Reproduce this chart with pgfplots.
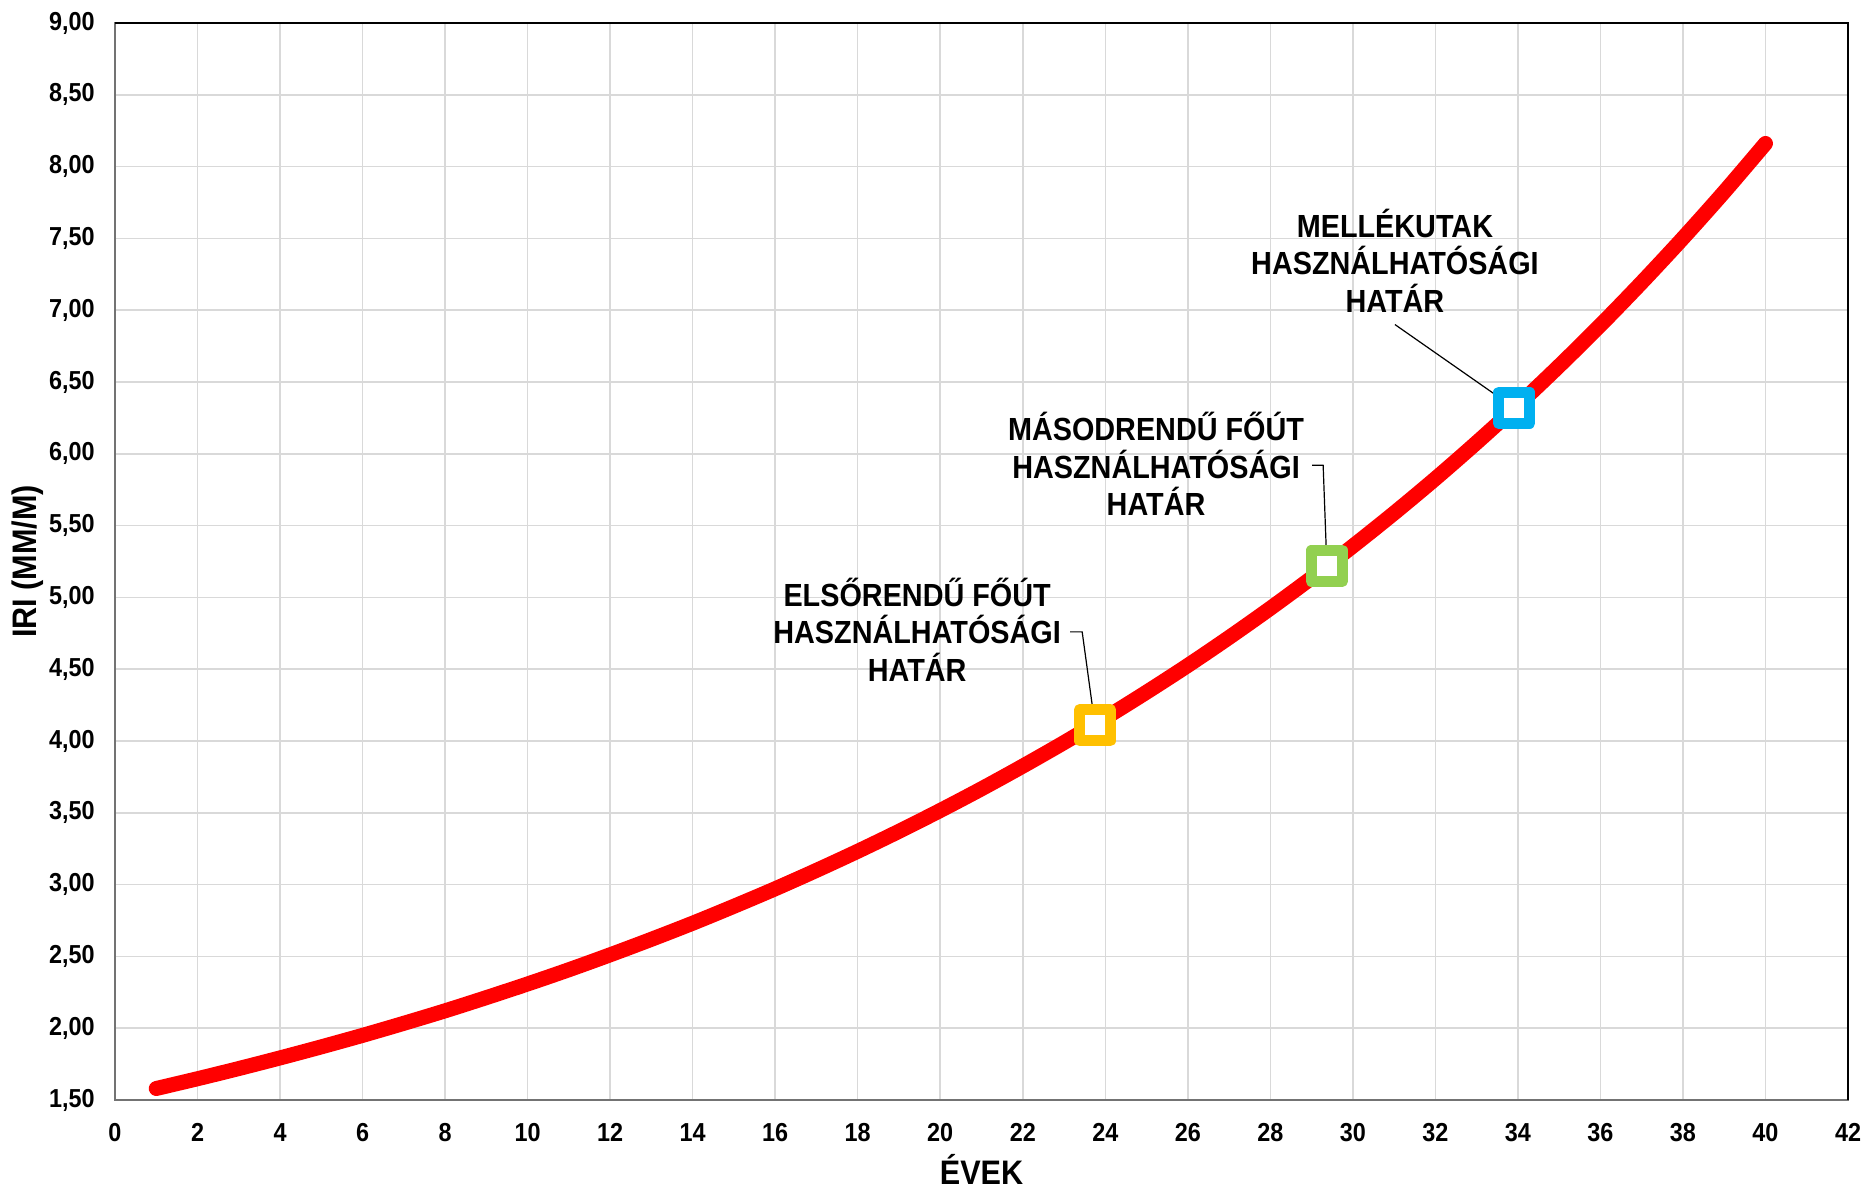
\documentclass[border=0pt]{standalone}
\usepackage{fontspec}
\setmainfont{Liberation Sans}[FakeStretch=0.9]
\usepackage{pgfplots}
\pgfplotsset{compat=1.18}
\definecolor{gridgray}{HTML}{D9D9D9}
\definecolor{markyellow}{HTML}{FFC000}
\definecolor{markgreen}{HTML}{92D050}
\definecolor{markblue}{HTML}{00B0F0}

\begin{document}
\begin{tikzpicture}
\begin{axis}[
  scale only axis,
  width=866.5pt, height=538.5pt,
  xmin=0, xmax=42, ymin=1.5, ymax=9,
  xtick={0,2,...,42},
  ytick={1.5,2,...,9},
  grid=major,
  major grid style={gridgray, line width=0.75pt},
  major tick length=0pt,
  axis line style={black!55, line width=1pt},
  font=\bfseries,
  /pgf/number format/assume math mode=true,
  yticklabel={\pgfmathprintnumber[fixed,fixed zerofill,precision=2,use comma]{\tick}},
  xticklabel={\pgfmathprintnumber{\tick}},
  ticklabel style={font=\fontsize{13}{15}\selectfont\bfseries},
  xticklabel style={anchor=base, inner sep=0pt, yshift=-21pt},
  yticklabel style={anchor=east, inner sep=0pt, xshift=-10pt},
  xlabel={ÉVEK},
  ylabel={IRI (MM/M)},
  label style={font=\fontsize{17}{18}\selectfont\bfseries},
  xlabel style={at={(axis description cs:0.5,-0.0789)}, anchor=base},
  ylabel style={at={(axis description cs:-0.0502,0.5)}, anchor=center},
  clip=false,
]
% IRI growth curve
\addplot[red, line width=7.5pt, line cap=round, line join=round, smooth] coordinates {
  (1,1.580) (2,1.648) (3,1.719) (4,1.793) (5,1.870) (6,1.950) (7,2.034) (8,2.121)
  (9,2.213) (10,2.308) (11,2.407) (12,2.511) (13,2.619) (14,2.731) (15,2.849)
  (16,2.971) (17,3.099) (18,3.232) (19,3.371) (20,3.516) (21,3.667) (22,3.825)
  (23,3.989) (24,4.161) (25,4.340) (26,4.526) (27,4.721) (28,4.924) (29,5.136)
  (30,5.357) (31,5.587) (32,5.827) (33,6.078) (34,6.339) (35,6.612) (36,6.896)
  (37,7.193) (38,7.502) (39,7.824) (40,8.161)
};

% threshold markers
\addplot[only marks, mark=square*, mark size=7.75pt,
  mark options={draw=markyellow, fill=white, line width=5.5pt, line join=round}]
  coordinates {(23.75,4.11)};
\addplot[only marks, mark=square*, mark size=7.75pt,
  mark options={draw=markgreen, fill=white, line width=5.5pt, line join=round}]
  coordinates {(29.37,5.22)};
\addplot[only marks, mark=square*, mark size=7.75pt,
  mark options={draw=markblue, fill=white, line width=5.5pt, line join=round}]
  coordinates {(33.91,6.32)};

% leaders
\draw[black, line width=0.6pt] (axis cs:23.15,4.76) -- (axis cs:23.44,4.76) -- (axis cs:23.75,4.11);
\draw[black, line width=0.6pt] (axis cs:29.01,5.92) -- (axis cs:29.28,5.92) -- (axis cs:29.37,5.22);
\draw[black, line width=0.6pt] (axis cs:31.02,6.90) -- (axis cs:33.91,6.32);

% annotations
\tikzset{lbl/.style={align=center, anchor=center, inner sep=0pt,
  font=\fontsize{16}{18.75}\selectfont\bfseries}}
\node[lbl] at (axis cs:19.44,4.775) {ELSŐRENDŰ FŐÚT\\HASZNÁLHATÓSÁGI\\HATÁR};
\node[lbl] at (axis cs:25.23,5.93) {MÁSODRENDŰ FŐÚT\\HASZNÁLHATÓSÁGI\\HATÁR};
\node[lbl] at (axis cs:31.02,7.345) {MELLÉKUTAK\\HASZNÁLHATÓSÁGI\\HATÁR};

% top and right frame in black
\draw[black, line width=1pt] (rel axis cs:0,1) -- (rel axis cs:1,1) -- (rel axis cs:1,0);
\end{axis}
\pgfresetboundingbox
\path ([shift={(-57.5pt,-45pt)}]current axis.south west) rectangle ([shift={(8pt,11.5pt)}]current axis.north east);
\end{tikzpicture}
\end{document}
